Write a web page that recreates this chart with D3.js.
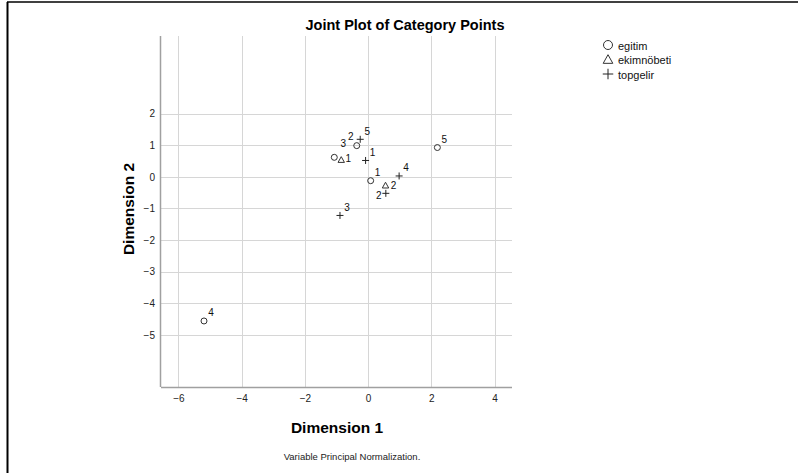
<!DOCTYPE html>
<html>
<head>
<meta charset="utf-8">
<script src="https://cdn.jsdelivr.net/npm/d3@7"></script>
<style>
  body { margin: 0; background: #fff; }
  svg { display: block; font-family: "Liberation Sans", Arial, sans-serif; }
  .grid line { stroke: #d6d6d6; stroke-width: 1; }
  .tick-label { font-size: 10px; fill: #222; }
  .pt-label { font-size: 10px; fill: #111; }
</style>
</head>
<body>
<script>
let width = 798,
    height = 473;

// category points
let egitimCats = ['1', '2', '3', '4', '5'];
let egitimX = [0.08, -0.36, -1.07, -5.19, 2.19];
let egitimY = [-0.12, 0.99, 0.62, -4.56, 0.93];

let ekimCats = ['1', '2'];
let ekimX = [-0.85, 0.55];
let ekimY = [0.54, -0.27];

let topgelirCats = ['1', '2', '3', '4', '5'];
let topgelirX = [-0.08, 0.56, -0.89, 0.98, -0.25];
let topgelirY = [0.52, -0.52, -1.22, 0.03, 1.19];

let xTicks = [-6, -4, -2, 0, 2, 4];
let yTicks = [-5, -4, -3, -2, -1, 0, 1, 2];

let variables = ['egitim', 'ekimnöbeti', 'topgelir'];

// label placement tweaks where labels would collide
let labelNudge = {
    'egitim 2': [-6, -9],
    'egitim 3': [9, -14],
    'ekimnöbeti 1': [7, -1],
    'ekimnöbeti 2': [8, 0],
    'topgelir 2': [-7, 2]
};

let points = [];
egitimCats.forEach((c, i) => points.push({v: 'egitim', cat: c, x: egitimX[i], y: egitimY[i]}));
ekimCats.forEach((c, i) => points.push({v: 'ekimnöbeti', cat: c, x: ekimX[i], y: ekimY[i]}));
topgelirCats.forEach((c, i) => points.push({v: 'topgelir', cat: c, x: topgelirX[i], y: topgelirY[i]}));

let svg = d3.select('body').append('svg')
    .attr('width', width)
    .attr('height', height);

// outer frame (top and left edges)
svg.append('line').attr('x1', 7).attr('x2', width).attr('y1', 2).attr('y2', 2)
    .attr('stroke', '#000').attr('stroke-width', 1.5);
svg.append('line').attr('x1', 7.5).attr('x2', 7.5).attr('y1', 2).attr('y2', height)
    .attr('stroke', '#000').attr('stroke-width', 2);

let plotL = 161, plotR = 512, plotT = 36, plotB = 387;

let x = d3.scaleLinear().domain([-6.55, 4.55]).range([plotL, plotR]);
let y = d3.scaleLinear().domain([-6.65, 4.46]).range([plotB, plotT]);

let grid = svg.append('g').attr('class', 'grid');
grid.selectAll('line.v').data(xTicks).enter().append('line')
    .attr('class', 'v')
    .attr('x1', d => Math.round(x(d)) + 0.5).attr('x2', d => Math.round(x(d)) + 0.5)
    .attr('y1', plotT).attr('y2', plotB);
grid.selectAll('line.h').data(yTicks).enter().append('line')
    .attr('class', 'h')
    .attr('x1', plotL).attr('x2', plotR)
    .attr('y1', d => Math.round(y(d)) + 0.5).attr('y2', d => Math.round(y(d)) + 0.5);

// axes
let xAxis = svg.append('g').attr('transform', 'translate(0,' + plotB + ')')
    .call(d3.axisBottom(x).tickValues(xTicks).tickSize(0).tickPadding(8).tickFormat(d3.format('d')));
let yAxis = svg.append('g').attr('transform', 'translate(' + plotL + ',0)')
    .call(d3.axisLeft(y).tickValues(yTicks).tickSize(0).tickPadding(6).tickFormat(d3.format('d')));
[xAxis, yAxis].forEach(a => {
    a.select('.domain').attr('stroke', '#a0a0a0').attr('stroke-width', 1.5);
    a.selectAll('text').attr('class', 'tick-label').attr('font-family', null).attr('font-size', null);
});
xAxis.select('.domain').attr('d', 'M' + plotL + ',0.5H' + plotR);
yAxis.select('.domain').attr('d', 'M-0.5,' + plotT + 'V' + plotB);

// markers: circle, triangle, plus
function drawMarker(g, v, scale) {
    if (v === 'topgelir') {
        let s = 3.5 * scale;
        g.append('path').attr('d', 'M' + (-s) + ',0H' + s + 'M0,' + (-s) + 'V' + s)
            .attr('stroke', '#222').attr('stroke-width', 1).attr('fill', 'none');
    } else if (v === 'egitim') {
        g.append('circle').attr('r', 3 * scale)
            .attr('stroke', '#333').attr('stroke-width', 1).attr('fill', 'none');
    } else {
        let s = 3.2 * scale;
        g.append('path').attr('d', 'M0,' + (-s) + 'L' + s + ',' + (s * 0.8) + 'L' + (-s) + ',' + (s * 0.8) + 'Z')
            .attr('stroke', '#333').attr('stroke-width', 1).attr('fill', 'none');
    }
}

let pts = svg.selectAll('g.pt').data(points).enter().append('g')
    .attr('class', 'pt')
    .attr('transform', d => 'translate(' + x(d.x) + ',' + y(d.y) + ')');
pts.each(function(d) { drawMarker(d3.select(this), d.v, 1); });
pts.append('text')
    .attr('class', 'pt-label')
    .attr('text-anchor', 'middle')
    .attr('dominant-baseline', 'central')
    .attr('x', d => (labelNudge[d.v + ' ' + d.cat] || [7, -8])[0])
    .attr('y', d => (labelNudge[d.v + ' ' + d.cat] || [7, -8])[1])
    .text(d => d.cat);

// legend
let legend = svg.selectAll('g.legend').data(variables).enter().append('g')
    .attr('class', 'legend')
    .attr('transform', (d, i) => 'translate(608,' + (45 + i * 14.5) + ')');
legend.each(function(d) { drawMarker(d3.select(this), d, 1.5); });
legend.append('text')
    .attr('x', 10).attr('y', 0.5)
    .attr('dominant-baseline', 'central')
    .attr('font-size', '11px')
    .attr('fill', '#111')
    .text(d => d);

// titles
svg.append('text')
    .attr('x', 405).attr('y', 30)
    .attr('text-anchor', 'middle')
    .attr('font-size', '14.5px').attr('font-weight', 'bold')
    .text('Joint Plot of Category Points');

svg.append('text')
    .attr('x', 337).attr('y', 433)
    .attr('text-anchor', 'middle')
    .attr('font-size', '15.5px').attr('font-weight', 'bold')
    .text('Dimension 1');

svg.append('text')
    .attr('transform', 'translate(134,209) rotate(-90)')
    .attr('text-anchor', 'middle')
    .attr('font-size', '15.5px').attr('font-weight', 'bold')
    .text('Dimension 2');

svg.append('text')
    .attr('x', 352).attr('y', 460)
    .attr('text-anchor', 'middle')
    .attr('font-size', '9.5px').attr('fill', '#222')
    .text('Variable Principal Normalization.');
</script>
</body>
</html>
